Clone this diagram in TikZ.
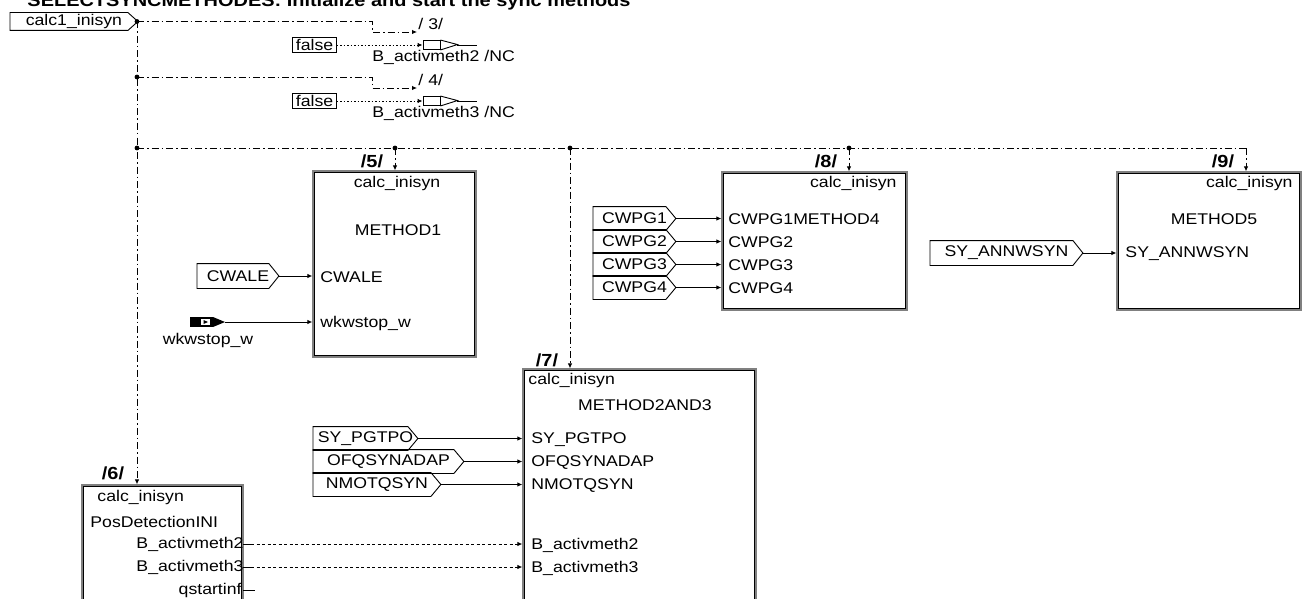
\documentclass[tikz,border=0pt]{standalone}
\usepackage{fontspec}
\setmainfont{Liberation Sans}[FakeStretch=1.14]
\usetikzlibrary{arrows.meta}

\begin{document}
\begin{tikzpicture}[
  x=1pt, y=-1pt, line width=0.9pt, font=\fontsize{15.5}{17}\selectfont,
  txt/.style={inner sep=0pt},
  ttl/.style={inner sep=0pt,font=\fontsize{17.5}{19}\selectfont\bfseries},
  inport/.style={inner sep=0pt,anchor=west,minimum height=23pt},
  blk/.style={draw=black!50,line width=1.3pt,inner sep=0pt},
  konst/.style={draw,inner xsep=3pt,inner ysep=0pt,minimum height=15pt},
  outp/.style={draw,inner sep=0pt,minimum width=17pt,minimum height=9pt},
  ctl/.style={dash pattern=on 7pt off 3pt on 1.5pt off 3pt},
  sig/.style={-{Latex[length=5pt,width=4.5pt]}},
  dotsig/.style={sig,dash pattern=on 1.5pt off 2pt},
  dashsig/.style={sig,dash pattern=on 3pt off 2.5pt}
]
  \clip (0,0) rectangle (1303,599);
  \node[ttl,anchor=base west] (title) at (27,7) {SELECTSYNCMETHODES: Initialize and start the sync methods};

  % blocks
  \node[blk,minimum width=163pt,minimum height=186pt] (m1) at (394.5,264) {};
  \node[blk,minimum width=185pt,minimum height=138pt] (m4) at (814.5,241) {};
  \node[blk,minimum width=184pt,minimum height=138pt] (m5) at (1209,241) {};
  \node[blk,minimum width=233pt,minimum height=271pt] (m23) at (639.5,504.5) {};
  \node[blk,minimum width=161pt,minimum height=155pt] (pd) at (162.5,562.5) {};
  \foreach \b in {m1,m4,m5,m23,pd}
    \draw[line width=0.8pt] ([shift={(2.5,2.5)}]\b.north west) rectangle ([shift={(-2.5,-2.5)}]\b.south east);

  \node[ttl] (b5) at (372,161) {/5/};
  \node[ttl] (b8) at (826,161) {/8/};
  \node[ttl] (b9) at (1223,161) {/9/};
  \node[ttl] (b7) at (547,360) {/7/};
  \node[ttl] (b6) at (113,473) {/6/};

  % inports
  \node[inport,minimum width=127pt,minimum height=17pt] (calc1) at (10,21.5) {calc1\_inisyn};
  \node[inport,minimum width=81pt,minimum height=24pt] (cwale) at (197,276) {CWALE};
  \node[inport,minimum width=82pt] (cwpg1) at (593,218.5) {CWPG1};
  \node[inport,minimum width=82pt] (cwpg2) at (593,241.5) {CWPG2};
  \node[inport,minimum width=82pt] (cwpg3) at (593,264.5) {CWPG3};
  \node[inport,minimum width=82pt] (cwpg4) at (593,287.5) {CWPG4};
  \node[inport,minimum width=152pt,minimum height=24pt] (annw) at (930,253) {SY\_ANNWSYN};
  \node[inport,minimum width=104pt] (sypg) at (313,438.5) {SY\_PGTPO};
  \node[inport,minimum width=150pt] (ofq) at (313,461.5) {OFQSYNADAP};
  \node[inport,minimum width=127pt] (nmot) at (313,484.5) {NMOTQSYN};
  \foreach \p in {calc1,cwale,cwpg1,cwpg2,cwpg3,cwpg4,annw,sypg,ofq,nmot}
    \draw (\p.north west) -- ([xshift=-10pt]\p.north east) -- (\p.east)
      -- ([xshift=-10pt]\p.south east) -- (\p.south west) -- cycle;

  % junctions
  \coordinate (j0) at (137,21.5);
  \coordinate (j1) at (137,77);
  \coordinate (j2) at (137,148);
  \coordinate (j3) at (395,148);
  \coordinate (j4) at (570,148);
  \coordinate (j5) at (849,148);
  \coordinate (c9) at (1246,148);
  \foreach \j in {j0,j1,j2,j3,j4,j5}
    \fill (\j) circle (2.4pt);

  % /3/ and /4/
  \coordinate (k3) at (372,21.5);
  \coordinate (e3) at (417,32);
  \draw[ctl,sig] (j0) -- (k3) |- (e3);
  \node[txt,anchor=base west] (n3) at (418,29.5) {/ 3/};
  \node[konst] (f3) at (314.5,45) {false};
  \node[outp] (o3) at (431.5,45) {};
  \draw (o3.north east) -- ++(17,4.5) -- (o3.south east);
  \draw ([xshift=17pt]o3.east) -- ++(20,0);
  \draw[dotsig] (f3) -- (o3);
  \node[txt,anchor=west] (l3) at (372,57.5) {B\_activmeth2 /NC};

  \coordinate (k4) at (372,77);
  \coordinate (e4) at (417,88);
  \draw[ctl,sig] (j1) -- (k4) |- (e4);
  \node[txt,anchor=base west] (n4) at (418,85.5) {/ 4/};
  \node[konst] (f4) at (314.5,101) {false};
  \node[outp] (o4) at (431.5,101) {};
  \draw (o4.north east) -- ++(17,4.5) -- (o4.south east);
  \draw ([xshift=17pt]o4.east) -- ++(20,0);
  \draw[dotsig] (f4) -- (o4);
  \node[txt,anchor=west] (l4) at (372,113.5) {B\_activmeth3 /NC};

  % bus
  \draw[ctl,sig] (j0) -- (j0 |- pd.north);
  \draw[ctl] (j2) -- (c9);
  \draw[ctl,sig] (c9) -- (c9 |- m5.north);
  \draw[ctl,sig] (j3) -- (j3 |- m1.north);
  \draw[ctl,sig] (j4) -- (j4 |- m23.north);
  \draw[ctl,sig] (j5) -- (j5 |- m4.north);

  % METHOD1
  \node[txt] (t1a) at (397,183) {calc\_inisyn};
  \node[txt] (t1b) at (398,230) {METHOD1};
  \node[txt,anchor=west] (t1c) at (320,277) {CWALE};
  \node[txt,anchor=west] (t1d) at (320,323) {wkwstop\_w};
  \draw[sig] (cwale.east) -- (cwale.east -| m1.west);
  \fill (190,317) rectangle (213,327);
  \fill[white] (201,318.8) rectangle (210,325.2);
  \fill (203.5,320) -- (208,322) -- (203.5,324) -- cycle;
  \fill (213,317) -- (225,322) -- (213,327) -- cycle;
  \coordinate (wk) at (225,322);
  \draw[sig] (wk) -- (wk -| m1.west);
  \node[txt] (wkl) at (208,340) {wkwstop\_w};

  % METHOD4
  \node[txt,anchor=east] (t4a) at (897,183) {calc\_inisyn};
  \node[txt,anchor=west] (t4b) at (728,219) {CWPG1METHOD4};
  \node[txt,anchor=west] (t4c) at (728,242) {CWPG2};
  \node[txt,anchor=west] (t4d) at (728,265) {CWPG3};
  \node[txt,anchor=west] (t4e) at (728,288) {CWPG4};
  \foreach \p in {cwpg1,cwpg2,cwpg3,cwpg4}
    \draw[sig] (\p.east) -- (\p.east -| m4.west);

  % METHOD5
  \node[txt,anchor=east] (t5a) at (1293,183) {calc\_inisyn};
  \node[txt] (t5b) at (1214,219) {METHOD5};
  \node[txt,anchor=west] (t5c) at (1125,254) {SY\_ANNWSYN};
  \draw[sig] (annw.east) -- (annw.east -| m5.west);

  % METHOD2AND3
  \node[txt,anchor=west] (t7a) at (528,380) {calc\_inisyn};
  \node[txt] (t7b) at (645,405) {METHOD2AND3};
  \node[txt,anchor=west] (t7c) at (531,440) {SY\_PGTPO};
  \node[txt,anchor=west] (t7d) at (531,463) {OFQSYNADAP};
  \node[txt,anchor=west] (t7e) at (531,486) {NMOTQSYN};
  \node[txt,anchor=west] (t7f) at (531,545) {B\_activmeth2};
  \node[txt,anchor=west] (t7g) at (531,568) {B\_activmeth3};
  \foreach \p in {sypg,ofq,nmot}
    \draw[sig] (\p.east) -- (\p.east -| m23.west);

  % PosDetectionINI
  \node[txt,anchor=west] (t6a) at (97,497) {calc\_inisyn};
  \node[txt,anchor=west] (t6b) at (90,522) {PosDetectionINI};
  \node[txt,anchor=east] (t6c) at (244,544) {B\_activmeth2};
  \node[txt,anchor=east] (t6d) at (244,567) {B\_activmeth3};
  \node[txt,anchor=east] (t6e) at (242,590) {qstartinf};
  \coordinate (pb2) at (243,544);
  \coordinate (pb3) at (243,567);
  \coordinate (pq) at (243,590);
  \draw (pb2) -- ++(8,0);
  \draw (pb3) -- ++(8,0);
  \draw (pq) -- ++(12,0);
  \draw[dashsig] ([xshift=8pt]pb2) -- (pb2 -| m23.west);
  \draw[dashsig] ([xshift=8pt]pb3) -- (pb3 -| m23.west);
\end{tikzpicture}
\end{document}
